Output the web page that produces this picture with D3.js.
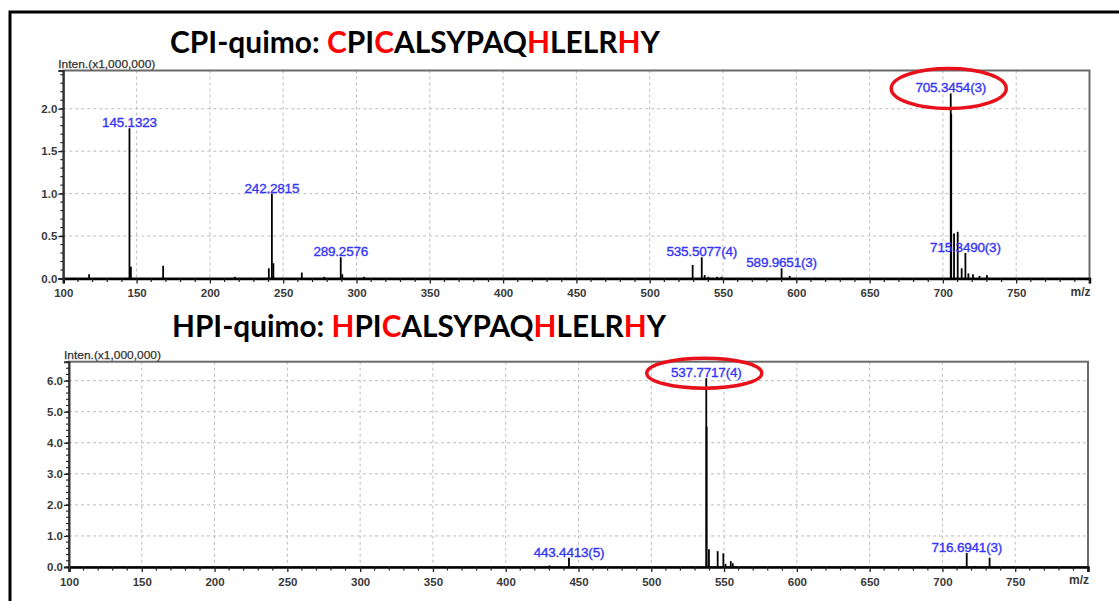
<!DOCTYPE html>
<html>
<head>
<meta charset="utf-8">
<script src="https://cdn.jsdelivr.net/npm/d3@7"></script>
<style>
  body { margin: 0; background: #fff; }
  svg { display: block; }
</style>
</head>
<body>
<svg id="chart" width="1119" height="601"></svg>
<script>
// ---- data -------------------------------------------------------------
const mzTicks = [100, 150, 200, 250, 300, 350, 400, 450, 500, 550, 600, 650, 700, 750];

// CPI-quimo spectrum: peak m/z and intensity (x1,000,000)
const cpiMz  = [117.6, 145.1323, 146.1, 168.1, 217.0, 240.2, 242.2815, 243.3, 262.7, 278.0,
                289.2576, 290.3, 305.0, 529.3, 535.5077, 537.5, 540.0, 546.0, 549.0,
                589.9651, 595.5, 705.3454, 705.68, 707.6, 710.1, 712.8, 715.3490, 717.4,
                720.5, 725.0, 730.0];
const cpiInt = [0.05, 1.77, 0.14, 0.15, 0.02, 0.12, 1.00, 0.18, 0.07, 0.02,
                0.25, 0.05, 0.02, 0.16, 0.25, 0.04, 0.02, 0.02, 0.02,
                0.12, 0.03, 2.18, 1.94, 0.53, 0.55, 0.12, 0.30, 0.06,
                0.05, 0.03, 0.04];
const cpiLabelMz     = [145.1323, 242.2815, 289.2576, 535.5077, 589.9651, 705.3454, 715.3490];
const cpiLabelCharge = ["", "", "", "(4)", "(3)", "(3)", "(3)"];
const cpiCircledMz   = 705.3454;
const cpiYTicks = [0, 0.5, 1.0, 1.5, 2.0];

// HPI-quimo spectrum
const hpiMz  = [430.0, 443.4413, 537.7717, 538.02, 539.6, 545.6, 549.5, 551.0, 554.6, 556.0,
                716.6941, 722.0, 732.4];
const hpiInt = [0.05, 0.30, 6.08, 4.52, 0.57, 0.51, 0.44, 0.10, 0.19, 0.12,
                0.45, 0.03, 0.30];
const hpiLabelMz     = [443.4413, 537.7717, 716.6941];
const hpiLabelCharge = ["(5)", "(4)", "(3)"];
const hpiCircledMz   = 537.7717;
const hpiYTicks = [0, 1, 2, 3, 4, 5, 6];

// Peptide titles (text, colour) – modified residues in red
const cpiTitle = [["CPI-quimo: ", "#000"], ["C", "#f00"], ["PI", "#000"], ["C", "#f00"],
                  ["ALSYPAQ", "#000"], ["H", "#f00"], ["LELR", "#000"], ["H", "#f00"], ["Y", "#000"]];
const hpiTitle = [["HPI-quimo: ", "#000"], ["H", "#f00"], ["PI", "#000"], ["C", "#f00"],
                  ["ALSYPAQ", "#000"], ["H", "#f00"], ["LELR", "#000"], ["H", "#f00"], ["Y", "#000"]];

// ---- drawing ----------------------------------------------------------
const svg = d3.select("#chart");

// page frame (top and left edges)
svg.append("path")
  .attr("d", "M10,601 V12 H1119")
  .attr("fill", "none").attr("stroke", "#000").attr("stroke-width", 3);

const LABEL_BLUE = "#3434f6";
const TICK_FONT = "'Liberation Sans', Arial, sans-serif";

function drawPanel(cfg) {
  const g = svg.append("g");
  const x = d3.scaleLinear().domain([100, 800]).range([cfg.left, cfg.right]);
  const y = d3.scaleLinear().domain([0, cfg.yMax]).range([cfg.bottom, cfg.top]);

  // title
  const title = g.append("text")
    .attr("x", cfg.titleX).attr("y", cfg.titleY)
    .attr("font-family", "Lato, 'Open Sans', sans-serif")
    .attr("font-weight", 700).attr("font-size", 29.5)
    .attr("textLength", cfg.titleLen).attr("lengthAdjust", "spacingAndGlyphs");
  title.selectAll("tspan").data(cfg.title).join("tspan")
    .attr("fill", d => d[1]).text(d => d[0]);

  // grid
  const grid = g.append("g").attr("stroke", "#bdbdbd").attr("stroke-width", 1)
    .attr("stroke-dasharray", "3,3");
  grid.selectAll("line.v").data(mzTicks.filter(v => v > 100)).join("line")
    .attr("x1", d => x(d)).attr("x2", d => x(d))
    .attr("y1", cfg.top).attr("y2", cfg.bottom);
  grid.selectAll("line.h").data(cfg.yTicks.filter(v => v > 0)).join("line")
    .attr("x1", cfg.left).attr("x2", cfg.right)
    .attr("y1", d => y(d)).attr("y2", d => y(d));

  // plot frame
  g.append("rect")
    .attr("x", cfg.left).attr("y", cfg.top)
    .attr("width", cfg.right - cfg.left).attr("height", cfg.bottom - cfg.top)
    .attr("fill", "none").attr("stroke", "#6a6a6a").attr("stroke-width", 2);

  // peaks
  g.append("g").selectAll("line").data(cfg.mz).join("line")
    .attr("x1", d => x(d)).attr("x2", d => x(d))
    .attr("y1", y(0)).attr("y2", (d, i) => y(cfg.inten[i]))
    .attr("stroke", "#000").attr("stroke-width", 1.8);

  // x axis
  const xAxis = d3.axisBottom(x).tickValues(mzTicks).tickSize(5).tickFormat(d3.format("d"));
  const xg = g.append("g").attr("transform", `translate(0,${cfg.bottom})`).call(xAxis);
  xg.select(".domain").attr("stroke", "#000").attr("stroke-width", 2.5);
  xg.selectAll(".tick line").attr("stroke", "#222").attr("stroke-width", 1.3);
  xg.selectAll(".tick text")
    .attr("font-family", TICK_FONT).attr("font-weight", 700).attr("font-size", 11.5)
    .attr("fill", "#3a3a3a").attr("dy", "0.95em");
  const xMinor = d3.range(100, 801, 10).filter(v => v % 50 !== 0);
  g.append("g").selectAll("line").data(xMinor).join("line")
    .attr("x1", d => x(d)).attr("x2", d => x(d))
    .attr("y1", cfg.bottom).attr("y2", cfg.bottom + 3.5)
    .attr("stroke", "#222").attr("stroke-width", 1.2);
  g.append("line")
    .attr("x1", x(800)).attr("x2", x(800))
    .attr("y1", cfg.bottom).attr("y2", cfg.bottom + 5)
    .attr("stroke", "#222").attr("stroke-width", 1.3);
  g.append("text")
    .attr("x", x(800) + 1).attr("y", cfg.bottom + 17)
    .attr("text-anchor", "end")
    .attr("font-family", TICK_FONT).attr("font-weight", 700).attr("font-size", 12)
    .attr("fill", "#3a3a3a").text("m/z");

  // y axis
  const yAxis = d3.axisLeft(y).tickValues(cfg.yTicks).tickSize(5).tickFormat(d3.format(".1f"));
  const yg = g.append("g").attr("transform", `translate(${cfg.left},0)`).call(yAxis);
  yg.select(".domain").attr("stroke", "#333").attr("stroke-width", 2);
  yg.selectAll(".tick line").attr("stroke", "#222").attr("stroke-width", 1.3);
  yg.selectAll(".tick text")
    .attr("font-family", TICK_FONT).attr("font-weight", 700).attr("font-size", 11.5)
    .attr("fill", "#3a3a3a").attr("x", -6);
  const yMinor = d3.range(0, cfg.yMax, cfg.yMinorStep);
  g.append("g").selectAll("line").data(yMinor).join("line")
    .attr("x1", cfg.left - 3).attr("x2", cfg.left)
    .attr("y1", d => y(d)).attr("y2", d => y(d))
    .attr("stroke", "#222").attr("stroke-width", 1.1);
  g.append("text")
    .attr("x", cfg.left - 5).attr("y", cfg.top - 2.5)
    .attr("font-family", TICK_FONT).attr("font-size", 11)
    .attr("fill", "#333").attr("stroke", "#333").attr("stroke-width", 0.25)
    .attr("textLength", 97).attr("lengthAdjust", "spacingAndGlyphs")
    .text("Inten.(x1,000,000)");

  // peak labels
  const labels = cfg.labelMz.map((m, i) => ({
    mz: m,
    inten: cfg.inten[cfg.mz.indexOf(m)],
    text: m.toFixed(4) + cfg.labelCharge[i]
  }));
  g.append("g").selectAll("text").data(labels).join("text")
    .attr("x", d => x(d.mz)).attr("y", d => y(d.inten) - 1)
    .attr("text-anchor", "middle")
    .attr("font-family", TICK_FONT).attr("font-size", 13.5)
    .attr("letter-spacing", -0.2)
    .attr("fill", LABEL_BLUE).attr("stroke", LABEL_BLUE).attr("stroke-width", 0.35)
    .text(d => d.text);

  // highlighted precursor
  const hi = labels.find(d => d.mz === cfg.circledMz);
  g.append("ellipse")
    .attr("cx", x(hi.mz) - 2).attr("cy", y(hi.inten) - 5)
    .attr("rx", 57.5).attr("ry", cfg.ellipseRy)
    .attr("fill", "none").attr("stroke", "#e8111b").attr("stroke-width", 3.5);
}

drawPanel({
  left: 63.3, right: 1089.5, top: 70.5, bottom: 278.5, yMax: 2.45,
  yTicks: cpiYTicks, yMinorStep: 0.1,
  mz: cpiMz, inten: cpiInt, labelMz: cpiLabelMz, labelCharge: cpiLabelCharge,
  circledMz: cpiCircledMz, ellipseRy: 20,
  title: cpiTitle, titleX: 170, titleY: 53, titleLen: 490
});

drawPanel({
  left: 69, right: 1088, top: 361.7, bottom: 567, yMax: 6.61,
  yTicks: hpiYTicks, yMinorStep: 0.2,
  mz: hpiMz, inten: hpiInt, labelMz: hpiLabelMz, labelCharge: hpiLabelCharge,
  circledMz: hpiCircledMz, ellipseRy: 15,
  title: hpiTitle, titleX: 172, titleY: 337, titleLen: 494
});
</script>
</body>
</html>
